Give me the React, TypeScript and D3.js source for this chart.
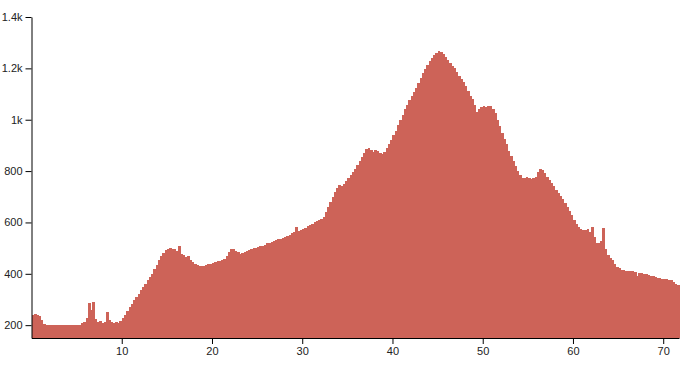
import { useRef, useEffect } from 'react';
import * as d3 from 'd3';

// elevation (m) sampled every 0.25 km, split by 10 km
const step = 0.25;
const elev0to10 = [
    240, 243, 241, 234, 220, 206, 202, 201, 200, 200,
    200, 200, 200, 200, 200, 200, 200, 200, 200, 200,
    200, 201, 207, 212, 228, 288, 258, 290, 225, 214,
    216, 210, 214, 251, 222, 214, 209, 212, 208, 215,
];
const elev10to20 = [
    228, 240, 255, 270, 284, 297, 310, 323, 337, 350,
    362, 375, 386, 400, 418, 435, 452, 468, 482, 493,
    498, 500, 496, 498, 488, 510, 476, 472, 464, 470,
    455, 447, 440, 436, 431, 429, 432, 434, 437, 440,
];
const elev20to30 = [
    444, 446, 448, 450, 452, 456, 468, 484, 496, 498,
    490, 484, 478, 481, 484, 488, 492, 496, 500, 502,
    505, 507, 510, 514, 518, 521, 524, 527, 530, 534,
    537, 540, 544, 548, 553, 558, 563, 584, 568, 572,
];
const elev30to40 = [
    576, 580, 585, 590, 595, 600, 604, 608, 613, 620,
    640, 660, 680, 700, 718, 733, 745, 740, 748, 760,
    772, 784, 796, 808, 822, 838, 856, 872, 886, 890,
    884, 876, 882, 880, 872, 866, 874, 888, 905, 920,
];
const elev40to50 = [
    940, 958, 978, 1000, 1020, 1040, 1058, 1076, 1094, 1108,
    1122, 1142, 1163, 1180, 1198, 1214, 1228, 1240, 1252, 1260,
    1266, 1264, 1255, 1244, 1232, 1220, 1210, 1200, 1186, 1172,
    1160, 1148, 1130, 1110, 1094, 1082, 1058, 1030, 1040, 1050,
];
const elev50to60 = [
    1055, 1050, 1052, 1054, 1040, 1026, 1000, 975, 948, 925,
    905, 880, 860, 840, 820, 800, 785, 774, 772, 776,
    773, 771, 775, 778, 798, 810, 806, 792, 776, 764,
    752, 740, 728, 716, 702, 690, 676, 662, 645, 628,
];
const elev60to72 = [
    610, 592, 582, 576, 572, 570, 574, 563, 584, 545,
    518, 520, 526, 580, 498, 472, 460, 452, 440, 428,
    422, 416, 414, 412, 412, 410, 410, 408, 390, 405,
    404, 400, 398, 396, 393, 390, 388, 385, 382, 380,
    380, 378, 376, 375, 370, 362, 356,
];
const xTicks = [10, 20, 30, 40, 50, 60, 70];
const yTicks = [200, 400, 600, 800, 1000, 1200, 1400];

const elevation = [
    ...elev0to10, ...elev10to20, ...elev20to30, ...elev30to40,
    ...elev40to50, ...elev50to60, ...elev60to72,
];

function ElevationChart() {

    const svgRef = useRef<SVGSVGElement>(null);

    useEffect(() => {

        //Dimension
        const width = 686;
        const height = 365;
        const margin = { top: 17, right: 7, bottom: 27, left: 31.5 };
        const total = elevation.length * step;

        if (svgRef.current) {
            const svg = d3.select(svgRef.current)
                .attr("width", width)
                .attr("height", height);

            svg.selectAll("*").remove();

            const x = d3.scaleLinear()
                .domain([0, total])
                .range([margin.left, width - margin.right]);

            const y = d3.scaleLinear()
                .domain([150, 1400])
                .range([height - margin.bottom, margin.top]);

            //Bars
            svg.append("g")
                .attr("fill", "#cd6358")
                .attr("shape-rendering", "crispEdges")
                .selectAll("rect")
                .data(elevation)
                .join("rect")
                .attr("x", (d, i) => x(i * step))
                .attr("width", (d, i) => x((i + 1) * step) - x(i * step) + 0.5)
                .attr("y", d => y(d))
                .attr("height", d => y(150) - y(d));

            //Axes
            const xAxis = svg.append("g")
                .attr("transform", `translate(0,${height - margin.bottom})`)
                .call(d3.axisBottom(x).tickValues(xTicks).tickSizeOuter(0));

            const yAxis = svg.append("g")
                .attr("transform", `translate(${margin.left},0)`)
                .call(d3.axisLeft(y).tickValues(yTicks).tickFormat(d3.format("~s")).tickSizeOuter(0));

            [xAxis, yAxis].forEach(a => {
                a.selectAll("text")
                    .attr("font-family", "Arial, 'Liberation Sans', sans-serif")
                    .attr("font-size", "11px")
                    .attr("fill", "#222");
            });
        }
    }, []);

    return <svg ref={svgRef} style={{ position: 'absolute', left: 0, top: 0 }} />;
}

export default function App() {
    return <ElevationChart />;
}
